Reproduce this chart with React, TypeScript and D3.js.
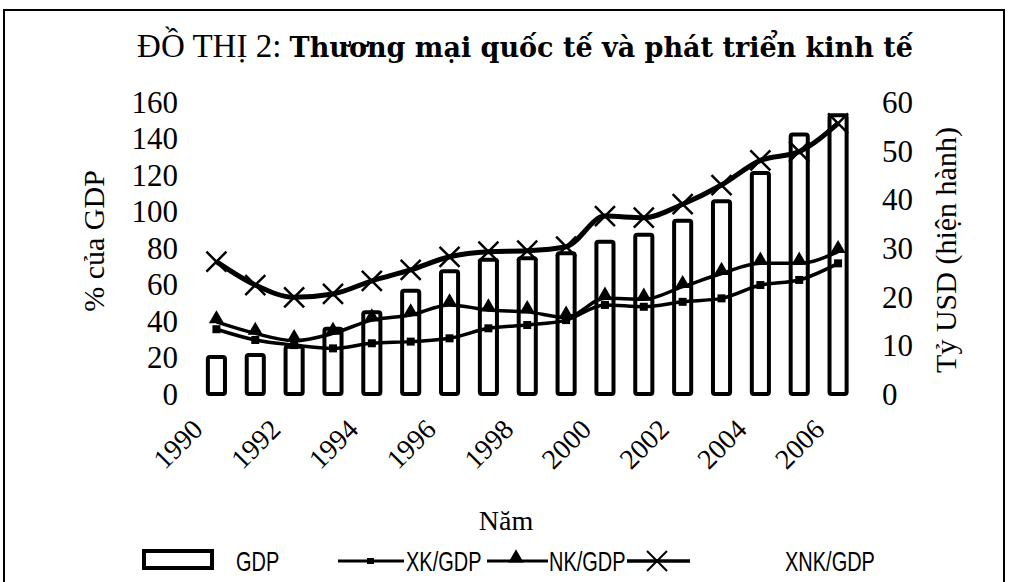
import React, { useEffect, useRef } from 'react';
import * as d3 from 'd3';

// categories
const years = [1990, 1991, 1992, 1993, 1994, 1995, 1996, 1997, 1998, 1999, 2000, 2001, 2002, 2003, 2004, 2005, 2006];
const yearLabels = [1990, 1992, 1994, 1996, 1998, 2000, 2002, 2004, 2006];

// GDP, billion USD (right axis)
const gdp = [7.6, 8.0, 9.7, 13.4, 16.8, 21.2, 25.2, 27.6, 27.9, 28.9, 31.3, 32.7, 35.6, 39.6, 45.4, 53.3, 57.3];
// % of GDP (left axis)
const xkGdp = [35.5, 29.6, 26.8, 25.0, 27.8, 28.7, 30.5, 36.0, 37.8, 40.5, 48.8, 47.8, 50.5, 52.4, 59.7, 62.5, 71.6];
const nkGdp = [39.5, 33.2, 29.2, 33.2, 40.5, 43.3, 48.8, 46.0, 45.0, 42.0, 52.4, 51.9, 58.8, 66.0, 71.6, 71.6, 78.0];
const xnkGdp = [72.5, 59.7, 53.0, 54.8, 62.0, 68.0, 75.2, 78.0, 78.5, 80.7, 97.5, 96.6, 104.0, 114.5, 128.0, 132.8, 148.3];

const leftTicks = [0, 20, 40, 60, 80, 100, 120, 140, 160];
const rightTicks = [0, 10, 20, 30, 40, 50, 60];

const W = 1012;
const H = 582;
const SERIF = '"Liberation Serif", "Times New Roman", serif';
const SANS = '"Liberation Sans", Arial, sans-serif';

export default function App() {
  const svgRef = useRef<SVGSVGElement>(null);

  useEffect(() => {
    document.body.style.margin = '0';
    if (!svgRef.current) return;
    const svg = d3.select(svgRef.current);
    svg.selectAll('*').remove();

    svg.append('rect').attr('width', W).attr('height', H).attr('fill', '#fff');
    // frame
    svg.append('path')
      .attr('d', `M4,${H} V10 H1004 V${H}`)
      .attr('fill', 'none')
      .attr('stroke', '#000')
      .attr('stroke-width', 2);

    // title
    const title = svg.append('text')
      .attr('x', 525)
      .attr('y', 57)
      .attr('text-anchor', 'middle')
      .attr('fill', '#000');
    title.append('tspan')
      .style('font-family', SERIF)
      .style('font-size', '33px')
      .text('ĐỒ THỊ 2: ');
    title.append('tspan')
      .style('font-family', '"DejaVu Serif", serif')
      .style('font-weight', 'bold')
      .style('font-size', '27px')
      .text('Thương mại quốc tế và phát triển kinh tế');

    // scales
    const x = d3.scaleBand<number>()
      .domain(years)
      .range([197, 857.5])
      .paddingInner(0.56)
      .paddingOuter(0.28);
    const cx = (d: number) => (x(d) || 0) + x.bandwidth() / 2;
    const yL = d3.scaleLinear().domain([0, 160]).range([394, 102]);
    const yR = d3.scaleLinear().domain([0, 60]).range([394, 102]);

    // left axis labels
    svg.append('g')
      .selectAll('text')
      .data(leftTicks)
      .enter()
      .append('text')
      .attr('x', 178)
      .attr('y', d => yL(d))
      .attr('dy', '0.35em')
      .attr('text-anchor', 'end')
      .style('font-family', SERIF)
      .style('font-size', '31px')
      .text(d => d);

    // right axis labels
    svg.append('g')
      .selectAll('text')
      .data(rightTicks)
      .enter()
      .append('text')
      .attr('x', 882)
      .attr('y', d => yR(d))
      .attr('dy', '0.35em')
      .attr('text-anchor', 'start')
      .style('font-family', SERIF)
      .style('font-size', '31px')
      .text(d => d);

    // axis titles
    svg.append('text')
      .attr('transform', 'translate(104,241) rotate(-90)')
      .attr('text-anchor', 'middle')
      .style('font-family', SERIF)
      .style('font-size', '30px')
      .text('% của GDP');
    svg.append('text')
      .attr('transform', 'translate(956,250) rotate(-90)')
      .attr('text-anchor', 'middle')
      .style('font-family', SERIF)
      .style('font-size', '30px')
      .text('Tỷ USD (hiện hành)');
    svg.append('text')
      .attr('x', 506)
      .attr('y', 530)
      .attr('text-anchor', 'middle')
      .style('font-family', SERIF)
      .style('font-size', '28px')
      .text('Năm');

    // year labels, rotated
    svg.append('g')
      .selectAll('text')
      .data(yearLabels)
      .enter()
      .append('text')
      .attr('transform', d => `translate(${cx(d) - 12},431) rotate(-45)`)
      .attr('text-anchor', 'end')
      .style('font-family', SERIF)
      .style('font-size', '28px')
      .text(d => d);

    // GDP bars
    svg.append('g')
      .selectAll('rect')
      .data(years)
      .enter()
      .append('rect')
      .attr('x', d => x(d) || 0)
      .attr('y', (d, i) => yR(gdp[i]))
      .attr('width', x.bandwidth())
      .attr('height', (d, i) => yR(0) - yR(gdp[i]))
      .attr('rx', 2)
      .attr('fill', '#fff')
      .attr('stroke', '#000')
      .attr('stroke-width', 4);

    const line = (vals: number[]) =>
      d3.line<number>()
        .x((d, i) => cx(years[i]))
        .y(d => yL(d))
        .curve(d3.curveMonotoneX)(vals);

    // XK/GDP
    svg.append('path')
      .attr('d', line(xkGdp))
      .attr('fill', 'none')
      .attr('stroke', '#000')
      .attr('stroke-width', 3.5);
    svg.append('g')
      .selectAll('rect')
      .data(xkGdp)
      .enter()
      .append('rect')
      .attr('x', (d, i) => cx(years[i]) - 4)
      .attr('y', d => yL(d) - 4)
      .attr('width', 8)
      .attr('height', 8)
      .attr('fill', '#000');

    // NK/GDP
    svg.append('path')
      .attr('d', line(nkGdp))
      .attr('fill', 'none')
      .attr('stroke', '#000')
      .attr('stroke-width', 3.5);
    const tri = d3.symbol().type(d3.symbolTriangle).size(100);
    svg.append('g')
      .selectAll('path')
      .data(nkGdp)
      .enter()
      .append('path')
      .attr('d', tri)
      .attr('transform', (d, i) => `translate(${cx(years[i])},${yL(d) - 3})`)
      .attr('fill', '#000');

    // XNK/GDP
    svg.append('path')
      .attr('d', line(xnkGdp))
      .attr('fill', 'none')
      .attr('stroke', '#000')
      .attr('stroke-width', 5);
    const crossPath = 'M-10,-10L10,10M-10,10L10,-10';
    svg.append('g')
      .selectAll('path')
      .data(xnkGdp)
      .enter()
      .append('path')
      .attr('d', crossPath)
      .attr('transform', (d, i) => `translate(${cx(years[i])},${yL(d)})`)
      .attr('stroke', '#000')
      .attr('stroke-width', 2.5);

    // legend
    const lg = svg.append('g');
    const ly = 561;
    lg.append('rect')
      .attr('x', 144).attr('y', 551).attr('width', 68).attr('height', 17)
      .attr('fill', '#fff').attr('stroke', '#000').attr('stroke-width', 4);
    // condensed sans text, like the scanned legend
    const legendText = (tx: number, label: string) =>
      lg.append('text')
        .attr('transform', `translate(${tx},${ly}) scale(0.74,1)`)
        .attr('dy', '0.36em')
        .style('font-family', SANS)
        .style('font-size', '27px')
        .text(label);
    legendText(236, 'GDP');

    lg.append('line').attr('x1', 338).attr('x2', 404).attr('y1', ly).attr('y2', ly)
      .attr('stroke', '#000').attr('stroke-width', 3);
    lg.append('rect').attr('x', 367).attr('y', ly - 3).attr('width', 7).attr('height', 6).attr('fill', '#000');
    legendText(406, 'XK/GDP');

    lg.append('line').attr('x1', 487).attr('x2', 548).attr('y1', ly).attr('y2', ly)
      .attr('stroke', '#000').attr('stroke-width', 3);
    lg.append('path').attr('d', tri).attr('transform', `translate(516,${ly - 3})`).attr('fill', '#000');
    legendText(549, 'NK/GDP');

    lg.append('line').attr('x1', 627).attr('x2', 690).attr('y1', ly).attr('y2', ly)
      .attr('stroke', '#000').attr('stroke-width', 3.5);
    lg.append('path').attr('d', crossPath).attr('transform', `translate(657,${ly})`)
      .attr('stroke', '#000').attr('stroke-width', 2);
    legendText(785, 'XNK/GDP');
  }, []);

  return <svg ref={svgRef} width={W} height={H} style={{ display: 'block' }} />;
}
